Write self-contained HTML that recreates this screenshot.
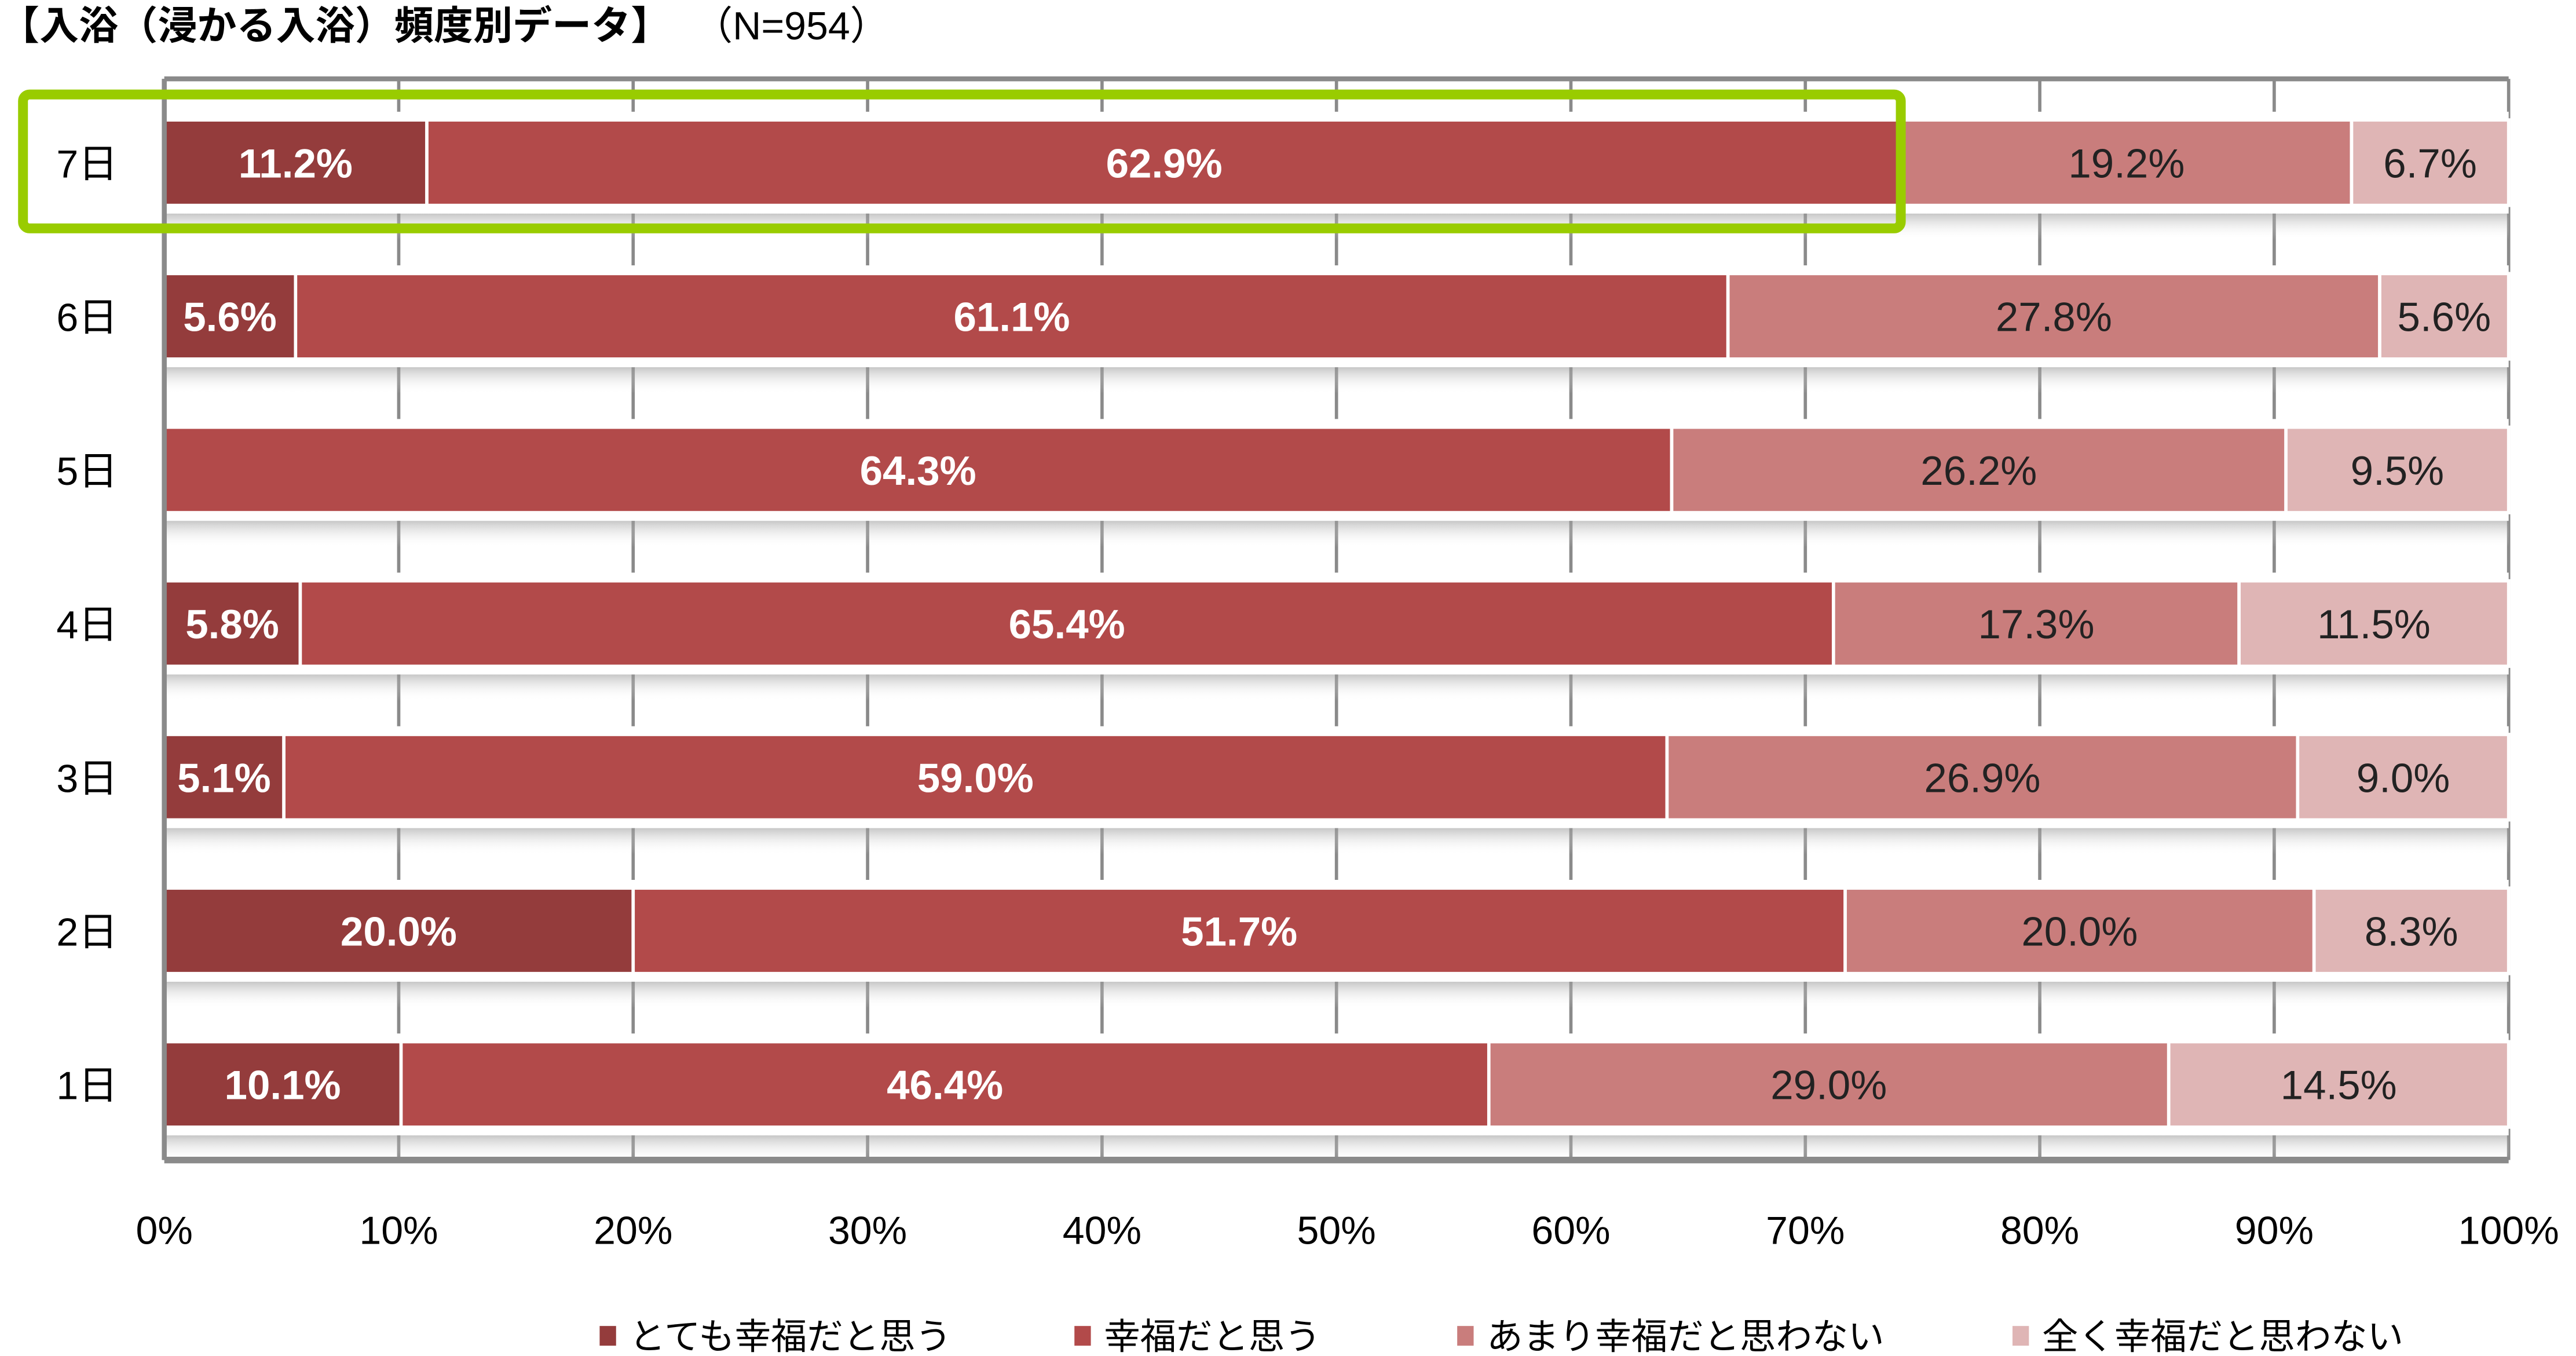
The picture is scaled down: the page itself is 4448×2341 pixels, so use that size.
<!DOCTYPE html>
<html><head><meta charset="utf-8">
<style>
html,body{margin:0;padding:0;background:#fff;}
svg{display:block;font-family:"Liberation Sans","Noto Sans CJK JP",sans-serif;}
</style></head>
<body>
<svg id="chart" width="4448" height="2341" viewBox="0 0 1568 825.27" preserveAspectRatio="none" xmlns="http://www.w3.org/2000/svg">
<defs>
<linearGradient id="shadow" x1="0" y1="0" x2="0" y2="1">
<stop offset="0" stop-color="#999" stop-opacity="0.55"/>
<stop offset="1" stop-color="#fff" stop-opacity="0"/>
</linearGradient>
</defs>
<text x="0" y="24" font-size="24" font-weight="bold" fill="#000">【入浴（浸かる入浴）頻度別データ】</text>
<text x="422" y="24" font-size="24" fill="#000">（N=954）</text>
<g id="grid"></g>
<g id="bars"></g>
<g id="axes"></g>
<g id="legend"></g>
</svg>
<script>
const categories = ["7日","6日","5日","4日","3日","2日","1日"];
const seriesNames = ["とても幸福だと思う","幸福だと思う","あまり幸福だと思わない","全く幸福だと思わない"];
const veryHappy = [11.2, 5.6, 0, 5.8, 5.1, 20.0, 10.1];
const happy = [62.9, 61.1, 64.3, 65.4, 59.0, 51.7, 46.4];
const notVery = [19.2, 27.8, 26.2, 17.3, 26.9, 20.0, 29.0];
const notAtAll = [6.7, 5.6, 9.5, 11.5, 9.0, 8.3, 14.5];
const ticks = [0,10,20,30,40,50,60,70,80,90,100];

const NS = "http://www.w3.org/2000/svg";
const X0 = 100, X1 = 1527, TOP = 48, BOT = 706;
const ROW0 = 99, ROWSTEP = 93.5, BARH = 52;
const colors = ["#943c3c","#b24a4a","#c97d7c","#dfb5b5"];
const textColors = ["#fff","#fff","#222","#222"];
const bolds = ["bold","bold","normal","normal"];
const xs = v => X0 + (Math.min(v,100)/100)*(X1-X0);
const ys = i => ROW0 + i*ROWSTEP;
function mk(tag, attrs, parent){const e=document.createElementNS(NS,tag);for(const k in attrs)e.setAttribute(k,attrs[k]);parent.appendChild(e);return e;}

const grid=document.getElementById('grid');
const bars=document.getElementById('bars');
const axes=document.getElementById('axes');
const legend=document.getElementById('legend');

ticks.forEach(t=>{
  const l=mk('line',{x1:xs(t),x2:xs(t),y1:TOP,y2:BOT,stroke:'#8a8a8a','stroke-width':2},grid);
  
  
  const tx=mk('text',{x:xs(t),y:757,'font-size':24,'text-anchor':'middle',fill:'#000'},axes);
  tx.textContent=t+'%';
  
  
});
const topLine=mk('line',{x1:X0,x2:X1,y1:TOP,y2:TOP,stroke:'#8a8a8a','stroke-width':3},axes);


const botLine=mk('line',{x1:X0,x2:X1,y1:BOT,y2:BOT,stroke:'#8a8a8a','stroke-width':4},axes);


const leftLine=mk('line',{x1:X0,x2:X0,y1:TOP,y2:BOT,stroke:'#8a8a8a','stroke-width':3},axes);



const series=[veryHappy,happy,notVery,notAtAll];
categories.forEach((c,i)=>{
  const cy=ys(i);
  const bg=mk('rect',{x:X0,y:cy-BARH/2-5,width:X1-X0,height:BARH+10,fill:'#fff'},bars);
  
  
  const sh=mk('rect',{x:X0,y:cy+BARH/2+5,width:X1-X0,height:16,fill:'url(#shadow)'},bars);
  
  
  let cum=0;
  series.forEach((s,k)=>{
    const v=s[i];
    if(v<=0) return;
    const a=xs(cum), b=xs(cum+v);
    cum+=v;
    const r=mk('rect',{x:a,y:cy-BARH/2,width:Math.max(0,b-a),height:BARH,fill:colors[k],stroke:'#fff','stroke-width':2},bars);
    
    
    const t=mk('text',{x:(a+b)/2,y:cy+9,'font-size':25,'font-weight':bolds[k],'text-anchor':'middle',fill:textColors[k]},bars);
    t.textContent=v.toFixed(1)+'%';
    
    
  });
  const cl=mk('text',{x:53,y:cy+9,'font-size':24,'text-anchor':'middle',fill:'#000'},axes);
  cl.textContent=c;
  
  
});

const hl=mk('rect',{x:14,y:57.5,width:1143,height:81.5,rx:4,fill:'none',stroke:'#99cc00','stroke-width':6},axes);



const legX=[365,654,887,1225];
seriesNames.forEach((n,k)=>{
  const sq=mk('rect',{x:legX[k],y:807,width:10,height:12,fill:colors[k]},legend);
  
  
  const t=mk('text',{x:legX[k]+18,y:821,'font-size':22,fill:'#000'},legend);
  t.textContent=n;
  
  
});
</script>
</body></html>
